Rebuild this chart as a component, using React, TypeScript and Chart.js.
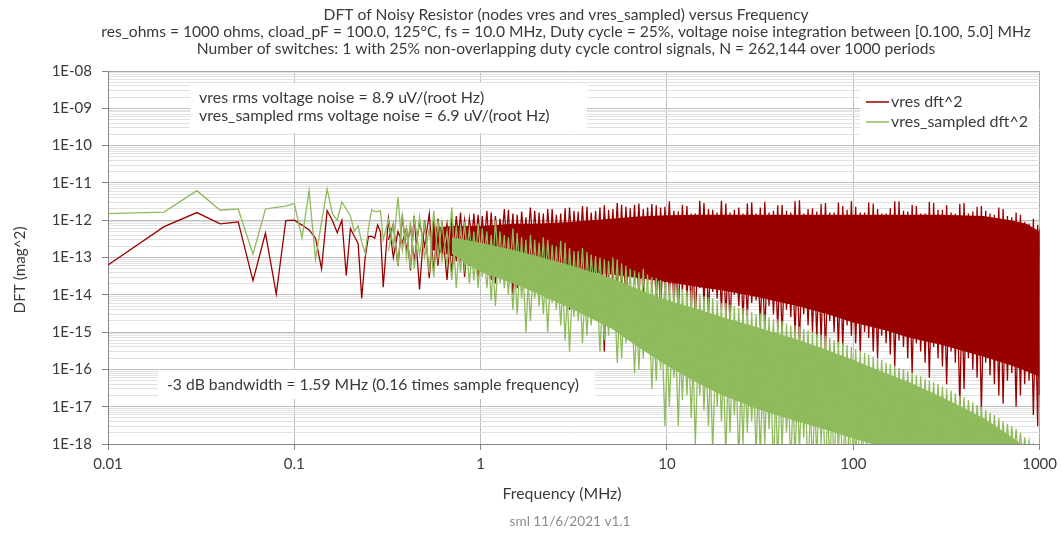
import { useEffect, useRef } from 'react';
import { Chart, registerables } from 'chart.js';

Chart.register(...registerables);

// ---------- texts ----------
const chartTitleLines = [
  'DFT of Noisy Resistor (nodes vres and vres_sampled) versus Frequency',
  'res_ohms = 1000 ohms, cload_pF = 100.0, 125°C, fs = 10.0 MHz, Duty cycle = 25%, voltage noise integration between [0.100, 5.0] MHz',
  'Number of switches: 1 with 25% non-overlapping duty cycle control signals, N = 262,144 over 1000 periods',
];
const noiseNotes = [
  'vres rms voltage noise = 8.9 uV/(root Hz)',
  'vres_sampled rms voltage noise = 6.9 uV/(root Hz)',
];
const bandwidthNote = '-3 dB bandwidth = 1.59 MHz (0.16 times sample frequency)';
const seriesNames = ['vres dft^2', 'vres_sampled dft^2'];
const xAxisTitle = 'Frequency (MHz)';
const yAxisTitle = 'DFT (mag^2)';
const footerText = 'sml 11/6/2021 v1.1';

// ---------- ticks ----------
const xTickValues = [0.01, 0.1, 1, 10, 100, 1000];
const xTickLabels = ['0.01', '0.1', '1', '10', '100', '1000'];
const yDecadeValues = [1e-18, 1e-17, 1e-16, 1e-15, 1e-14, 1e-13, 1e-12, 1e-11, 1e-10, 1e-9, 1e-8];
const yDecadeLabels = ['1E-18', '1E-17', '1E-16', '1E-15', '1E-14', '1E-13', '1E-12', '1E-11', '1E-10', '1E-09', '1E-08'];
const yMinorMultipliers = [2, 3, 4, 5, 6, 7, 8, 9];

// ---------- data: individually resolved low-frequency bins (MHz) ----------
const lowFreqMHz = [0.01, 0.02, 0.03, 0.04, 0.05, 0.06, 0.07, 0.08, 0.09, 0.10, 0.11, 0.12, 0.13, 0.14, 0.15,
  0.16, 0.17, 0.18, 0.19, 0.20, 0.21, 0.22, 0.23, 0.24, 0.25, 0.26, 0.27, 0.28, 0.29, 0.30];
const vresLow = [6.3e-14, 6.7e-13, 1.6e-12, 8.0e-13, 9.0e-13, 2.4e-14, 4.5e-13, 1.05e-14, 9.8e-13, 1.0e-12,
  7.4e-13, 5.5e-13, 3.3e-13, 5.0e-14, 1.8e-12, 1.0e-12, 4.6e-13, 1.0e-12, 3.3e-14, 6.0e-13,
  3.7e-13, 2.4e-13, 8.1e-15, 1.0e-13, 3.7e-13, 3.7e-13, 3.3e-13, 7.4e-13, 4.9e-13, 1.6e-14];
const vresSampledLow = [1.5e-12, 1.65e-12, 6.2e-12, 1.85e-12, 2.0e-12, 1.23e-13, 2.0e-12, 2.2e-12, 2.4e-12, 2.8e-12,
  3.3e-13, 6.2e-12, 8.9e-14, 9.0e-13, 6.9e-12, 1.5e-12, 1.0e-12, 3.1e-12, 2.0e-12, 1.3e-12,
  5.0e-13, 7.0e-13, 2.5e-13, 1.3e-13, 6.0e-13, 1.9e-12, 1.7e-12, 1.7e-12, 1.8e-12, 3.0e-13];

// ---------- data: dense region, sampled peaks / dips (MHz) ----------
const denseFreqMHz = [0.32, 0.34, 0.36, 0.38, 0.40, 0.42, 0.44, 0.47, 0.50, 0.53, 0.56, 0.59, 0.62, 0.66, 0.70,
  0.74, 0.78, 0.82, 0.87, 0.92, 0.97,
  1.02, 1.08, 1.14, 1.2, 1.27, 1.34, 1.41, 1.49, 1.57, 1.66, 1.75, 1.85, 1.95, 2.06, 2.17, 2.29, 2.42, 2.55,
  2.69, 2.84, 3.0, 3.17, 3.34, 3.52, 3.72, 3.92, 4.14, 4.37, 4.61, 4.86, 5.13, 5.41, 5.71, 6.02, 6.35, 6.7,
  7.07, 7.46, 7.87, 8.3, 8.76, 9.24, 9.75,
  10.3, 10.9, 11.5, 12.1, 12.8, 13.5, 14.2, 15.0, 15.8, 16.7, 17.6, 18.6, 19.6, 20.7, 21.8, 23.0, 24.3, 25.6,
  27.0, 28.5, 30.1, 31.7, 33.5, 35.3, 37.3, 39.3, 41.5, 43.8, 46.2, 48.7, 51.4, 54.2, 57.2, 60.4, 63.7, 67.2,
  70.9, 74.8, 78.9, 83.2, 87.8, 92.6, 97.7,
  103, 109, 115, 121, 128, 135, 142, 150, 158, 167, 176, 186, 196, 207, 218, 230, 243, 256, 270, 285, 301,
  317, 335, 353, 373, 393, 415, 438, 462, 487, 514, 542, 572, 604, 637, 672, 709, 748, 789, 832, 878, 926,
  977, 1000];
// peaks on even indices, dips on odd
const vresDenseA = [1.1e-12, 1.0e-13, 5e-13, 2.5e-13, 6e-13, 4.5e-14, 1.3e-12, 1.4e-14, 1.0e-12, 2.8e-14,
  1.0e-12, 6e-14, 9e-13, 2.5e-14, 1.2e-12, 8e-14, 1.6e-12, 3e-14, 1.1e-12, 1.2e-13, 1.4e-12,
  5e-14, 1.8e-12, 2.5e-14, 1.3e-12, 8e-14, 2.0e-12, 4e-14, 1.5e-12, 1.5e-14, 1.7e-12, 6e-14, 2.2e-12,
  3e-14, 1.6e-12, 1.2e-14, 2.0e-12, 5e-14, 1.4e-12, 2e-14, 2.1e-12, 4e-15, 1.8e-12, 3e-14, 2.4e-12,
  1.5e-14, 1.6e-12, 4e-14, 2.2e-12, 3e-16, 1.9e-12, 2.5e-14, 2.9e-12, 1.2e-14, 2.3e-12, 3e-14, 2.6e-12,
  8e-15, 2.0e-12, 2e-14, 2.7e-12, 6e-15, 2.2e-12, 1.5e-14,
  3.2e-12, 5e-15, 1.7e-12, 1.2e-14, 2.4e-12, 4e-15, 1.5e-12, 1.5e-14, 2.9e-12, 3e-15, 1.9e-12, 8e-15,
  3.3e-12, 2.5e-15, 1.6e-12, 1e-14, 2.2e-12, 2e-15, 2.8e-12, 6e-15, 1.5e-12, 1.5e-15, 3.1e-12, 5e-15,
  1.8e-12, 1.2e-15, 2.6e-12, 4e-15, 1.6e-12, 8e-16, 3.4e-12, 3e-15, 2.0e-12, 1e-15, 1.7e-12, 6e-16,
  2.9e-12, 2e-15, 1.6e-12, 4e-16, 2.4e-12, 1.5e-15, 3.2e-12,
  5e-16, 1.6e-12, 1e-15, 3.0e-12, 3e-16, 2.0e-12, 8e-16, 1.5e-12, 2.5e-16, 3.2e-12, 6e-16, 1.8e-12,
  2e-16, 2.6e-12, 5e-16, 1.5e-12, 1.5e-16, 3.1e-12, 4e-16, 1.9e-12, 1.2e-16, 2.5e-12, 3e-16, 1.5e-12,
  1e-17, 2.9e-12, 2e-16, 1.7e-12, 6e-17, 2.4e-12, 1.5e-16, 1.5e-12, 4e-17, 2.2e-12, 1.2e-17, 1.3e-12,
  8e-17, 1.6e-12, 2e-17, 9e-13, 5e-17, 1.1e-12, 3e-18, 6e-13];
// dips on even indices, peaks on odd
const vresDenseB = [3e-13, 8e-13, 6e-14, 1.2e-12, 1.5e-13, 7e-13, 8e-14, 9e-13, 2e-13, 1.5e-12, 4e-14, 1.1e-12,
  1.2e-13, 8e-13, 4e-14, 1.3e-12, 1e-13, 1.0e-12, 6e-14, 1.5e-12, 3e-14,
  1.3e-12, 4e-14, 1.6e-12, 2e-14, 1.1e-12, 6e-14, 1.9e-12, 1e-14, 1.4e-12, 4e-14, 1.2e-12, 2.5e-14, 1.8e-12,
  5e-14, 1.5e-12, 8e-15, 2.0e-12, 3e-14, 1.5e-12, 1.5e-14, 2.2e-12, 4e-14, 1.7e-12, 1e-14, 2.3e-12, 2e-14,
  1.8e-12, 6e-15, 2.5e-12, 3e-14, 2.0e-12, 1e-14, 2.6e-12, 4e-15, 2.1e-12, 2e-14, 2.8e-12, 7e-15, 2.2e-12,
  1.2e-14, 2.5e-12, 3e-15, 2.3e-12,
  1e-14, 1.8e-12, 3e-15, 2.6e-12, 8e-15, 1.5e-12, 2e-15, 3.3e-12, 6e-15, 2.0e-12, 1.2e-14, 1.6e-12, 4e-15,
  2.8e-12, 1.5e-15, 1.9e-12, 5e-15, 1.5e-12, 2.5e-15, 3.0e-12, 7e-15, 2.2e-12, 1e-15, 1.6e-12, 3e-15, 2.5e-12,
  8e-16, 1.8e-12, 2.5e-15, 3.2e-12, 5e-16, 1.5e-12, 1.5e-15, 2.1e-12, 7e-16, 2.7e-12, 3e-16, 1.6e-12, 1e-15,
  3.0e-12, 4e-16, 1.9e-12, 8e-16,
  2.3e-12, 3e-16, 1.6e-12, 7e-16, 2.8e-12, 2e-16, 1.5e-12, 5e-16, 2.1e-12, 1.2e-16, 3.2e-12, 4e-16, 1.7e-12,
  8e-17, 2.4e-12, 3e-16, 1.5e-12, 6e-17, 2.9e-12, 2e-16, 1.9e-12, 4e-17, 1.6e-12, 1.5e-16, 2.7e-12, 3e-17,
  1.5e-12, 1e-16, 2.3e-12, 8e-18, 1.8e-12, 7e-17, 1.4e-12, 2e-17, 2.0e-12, 5e-17, 1.2e-12, 1e-17, 1.4e-12,
  4e-17, 8e-13, 6e-18, 7.5e-13, 2e-17];
const vresSampledDenseA = [1.0e-12, 2e-13, 4.2e-12, 1.5e-13, 6e-13, 5e-14, 1.2e-12, 1.2e-13, 8e-13, 4e-14,
  1.8e-12, 1e-13, 9e-13, 6e-14, 2.2e-12, 1.5e-14, 7e-13, 5e-14, 6e-13, 2.4e-14, 8e-13,
  3e-14, 5e-13, 7e-15, 1.0e-12, 2e-14, 4e-13, 1e-14, 6e-13, 3e-15, 3.5e-13, 1e-15, 4e-13,
  8e-15, 2.5e-13, 3e-15, 3e-13, 6e-15, 2e-13, 1.5e-15, 2.5e-13, 3e-16, 1.5e-13, 2e-15, 1.8e-13,
  8e-16, 1.2e-13, 2.5e-15, 1.0e-13, 6e-16, 8e-14, 1.2e-15, 9e-14, 2e-16, 6e-14, 8e-16, 4.5e-14,
  1e-16, 5e-14, 3e-16, 3e-14, 5e-17, 2.5e-14, 3e-18,
  2e-14, 6e-17, 1.6e-14, 1.5e-17, 1.3e-14, 5e-18, 1.2e-14, 2e-17, 9e-15, 3e-18, 8e-15, 1e-17,
  6e-15, 5e-19, 5.5e-15, 6e-18, 4.5e-15, 1e-18, 4e-15, 4e-18, 3e-15, 5e-19, 3e-15, 2.5e-18,
  2.2e-15, 3e-19, 2e-15, 2e-18, 1.5e-15, 4e-19, 1.4e-15, 1.5e-18, 1.1e-15, 2e-19, 9e-16, 1e-18,
  8e-16, 2e-19, 6e-16, 6e-19, 5e-16, 1e-19, 4e-16,
  4e-19, 3e-16, 1e-19, 2.5e-16, 2e-19, 2e-16, 1e-19, 1.5e-16, 1e-19, 1.2e-16, 1e-19, 1e-16,
  1e-19, 8e-17, 1e-19, 6.5e-17, 1e-19, 5e-17, 1e-19, 4e-17, 1e-19, 3e-17, 1e-19, 2.3e-17,
  1e-19, 1.8e-17, 1e-19, 1.3e-17, 1e-19, 1e-17, 1e-19, 7e-18, 1e-19, 5e-18, 1e-19, 3.5e-18,
  1e-19, 2.5e-18, 1e-19, 1.5e-18, 1e-19, 9e-19, 1e-19, 6e-19];
const vresSampledDenseB = [1.5e-13, 8e-13, 6e-14, 1.5e-12, 1e-13, 9e-13, 5e-14, 1.2e-12, 1e-13, 6e-13, 3e-14,
  1.0e-12, 8e-14, 5e-13, 2.5e-14, 7e-13, 4e-14, 9e-13, 2e-14, 5e-13, 1.5e-14,
  6e-13, 1.5e-14, 4e-13, 5e-15, 5e-13, 1.5e-14, 3.5e-13, 4e-15, 4.5e-13, 8e-15, 3e-13, 2e-15, 3e-13, 5e-15,
  3.5e-13, 1e-15, 2.2e-13, 4e-15, 2.8e-13, 6e-16, 1.8e-13, 2.5e-15, 1.5e-13, 5e-16, 1.4e-13, 1.5e-15, 1.1e-13,
  3e-16, 9e-14, 8e-16, 1.0e-13, 1.5e-16, 7e-14, 5e-16, 5e-14, 8e-17, 4e-14, 2e-16, 3.5e-14, 3e-17, 2.8e-14,
  1e-16, 2.2e-14,
  1e-17, 1.8e-14, 3e-18, 1.4e-14, 2e-17, 1.3e-14, 1e-18, 1e-14, 8e-18, 8.5e-15, 6e-19, 7e-15, 4e-18, 6e-15,
  2e-18, 5e-15, 3e-19, 4.5e-15, 2e-18, 3.5e-15, 5e-19, 3.2e-15, 1e-18, 2.5e-15, 2e-19, 2.2e-15, 8e-19, 1.7e-15,
  2e-19, 1.5e-15, 6e-19, 1.2e-15, 1e-19, 1e-15, 4e-19, 8.5e-16, 1e-19, 7e-16, 2e-19, 5.5e-16, 1e-19, 4.5e-16,
  1e-19,
  3.5e-16, 1e-19, 2.8e-16, 1e-19, 2.2e-16, 1e-19, 1.8e-16, 1e-19, 1.4e-16, 1e-19, 1.1e-16, 1e-19, 9e-17, 1e-19,
  7e-17, 1e-19, 5.5e-17, 1e-19, 4.5e-17, 1e-19, 3.5e-17, 1e-19, 2.7e-17, 1e-19, 2e-17, 1e-19, 1.5e-17, 1e-19,
  1.1e-17, 1e-19, 8e-18, 1e-19, 6e-18, 1e-19, 4e-18, 1e-19, 3e-18, 1e-19, 2e-18, 1e-19, 1.2e-18, 1e-19, 7e-19,
  1e-19];

// ---------- data: dense core band of each trace (MHz) ----------
const vresBandFreqMHz = [0.55, 0.7, 1, 1.5, 2, 3, 5, 7, 10, 15, 20, 30, 50, 70, 100, 150, 200, 300, 500, 700, 850, 1000];
const vresBandTop = [6.3e-13, 7.0e-13, 7.0e-13, 8.0e-13, 8.0e-13, 9.0e-13, 1.1e-12, 1.25e-12, 1.35e-12, 1.4e-12, 1.4e-12,
  1.4e-12, 1.4e-12, 1.4e-12, 1.4e-12, 1.4e-12, 1.4e-12, 1.4e-12, 1.3e-12, 1.0e-12, 8.0e-13, 5.0e-13];
const vresBandBottom = [1.6e-13, 1.1e-13, 7.9e-14, 7.1e-14, 5.6e-14, 4.5e-14, 3.5e-14, 2.8e-14, 2.2e-14, 1.6e-14, 1.3e-14,
  8.9e-15, 5.0e-15, 3.2e-15, 1.8e-15, 1.1e-15, 7.1e-16, 4.5e-16, 2.2e-16, 1.3e-16, 8.9e-17, 6.3e-17];
const sampledBandFreqMHz = [0.7, 1, 1.5, 2, 3, 5, 7, 10, 15, 20, 30, 50, 70, 100, 150, 200, 300, 500, 700, 850, 1000];
const sampledBandTop = [3.5e-13, 2.5e-13, 1.6e-13, 1.1e-13, 6.3e-14, 2.8e-14, 1.4e-14, 7.1e-15, 4.0e-15, 2.5e-15, 1.4e-15,
  6.3e-16, 3.5e-16, 1.8e-16, 7.9e-17, 4.5e-17, 1.8e-17, 5.0e-18, 1.6e-18, 7.9e-19, 4.0e-19];
const sampledBandBottom = [1.26e-13, 4.0e-14, 2.0e-14, 1.1e-14, 4.5e-15, 1.26e-15, 4.0e-16, 1.26e-16, 4.0e-17, 2.0e-17, 8.9e-18,
  4.0e-18, 2.5e-18, 1.4e-18, 7.9e-19, 5.0e-19, 2.5e-19, 1.0e-19, 5.0e-20, 3.2e-20, 2.5e-20];

// ---------- styles ----------
const RED = '#990000';
const GREEN = '#8fbb5c';
const TEXT = '#3a3a3a';
const FONT = "Lato, 'Open Sans', sans-serif";
const NONE = 'rgba(0,0,0,0)';

const pts = (xs: number[], ys: number[]) => xs.map((x, i) => ({ x, y: ys[i] }));

const isDecade = (v: number) => {
  const e = Math.log10(v);
  return Math.abs(e - Math.round(e)) < 1e-6;
};

function fitFont(ctx: CanvasRenderingContext2D, text: string, width: number) {
  ctx.font = `20px ${FONT}`;
  const w = ctx.measureText(text).width;
  const size = (20 * width) / w;
  ctx.font = `${size}px ${FONT}`;
  return size;
}

const overlayPlugin = {
  id: 'overlayTexts',
  afterDraw(chart: any) {
    const ctx: CanvasRenderingContext2D = chart.ctx;
    ctx.save();
    ctx.textBaseline = 'middle';
    // title (one size for all lines)
    ctx.fillStyle = TEXT;
    ctx.textAlign = 'center';
    const ts = fitFont(ctx, chartTitleLines[1], 930);
    const titleY = [15, 32, 49];
    chartTitleLines.forEach((t, i) => {
      ctx.font = `${ts}px ${FONT}`;
      ctx.fillText(t, 566, titleY[i]);
    });
    // noise box
    ctx.fillStyle = '#ffffff';
    ctx.fillRect(190, 83, 397, 50);
    ctx.fillStyle = TEXT;
    ctx.textAlign = 'left';
    const s1 = fitFont(ctx, noiseNotes[1], 351);
    ctx.font = `${s1}px ${FONT}`;
    ctx.fillText(noiseNotes[0], 199, 98);
    ctx.fillText(noiseNotes[1], 199, 116);
    // bandwidth box
    ctx.fillStyle = '#ffffff';
    ctx.fillRect(158, 370, 437, 29);
    ctx.fillStyle = TEXT;
    fitFont(ctx, bandwidthNote, 412);
    ctx.fillText(bandwidthNote, 167, 385);
    // legend
    ctx.fillStyle = '#ffffff';
    ctx.fillRect(860, 86, 179, 51);
    const ls = fitFont(ctx, seriesNames[1], 137);
    ctx.font = `${ls}px ${FONT}`;
    [RED, GREEN].forEach((c, i) => {
      const y = 102 + i * 20;
      ctx.strokeStyle = c;
      ctx.lineWidth = 1.5;
      ctx.beginPath();
      ctx.moveTo(866, y);
      ctx.lineTo(889, y);
      ctx.stroke();
      ctx.fillStyle = TEXT;
      ctx.fillText(seriesNames[i], 891, y);
    });
    // axis titles
    ctx.textAlign = 'center';
    fitFont(ctx, xAxisTitle, 119);
    ctx.fillText(xAxisTitle, 562, 494);
    ctx.save();
    ctx.translate(20, 270);
    ctx.rotate(-Math.PI / 2);
    fitFont(ctx, yAxisTitle, 87);
    ctx.fillText(yAxisTitle, 0, 0);
    ctx.restore();
    // footer
    ctx.fillStyle = '#8c8c8c';
    fitFont(ctx, footerText, 121);
    ctx.fillText(footerText, 570, 522);
    ctx.restore();
  },
};

export default function App() {
  const ref = useRef<HTMLCanvasElement | null>(null);

  useEffect(() => {
    if (!ref.current) return;
    Chart.defaults.font.family = FONT;
    const line = { pointRadius: 0, tension: 0, fill: false, borderWidth: 1.3 };
    const hidden = { pointRadius: 0, borderColor: NONE, borderWidth: 0 };
    const chart = new Chart(ref.current, {
      type: 'line',
      data: {
        datasets: [
          { ...line, label: seriesNames[1], data: [...pts(lowFreqMHz, vresSampledLow), ...pts(denseFreqMHz, vresSampledDenseA)], borderColor: GREEN },
          { ...line, label: seriesNames[1] + ' B', data: pts(denseFreqMHz, vresSampledDenseB), borderColor: GREEN },
          { ...hidden, label: 'sampled band low', data: pts(sampledBandFreqMHz, sampledBandBottom), fill: 3, backgroundColor: GREEN },
          { ...hidden, label: 'sampled band high', data: pts(sampledBandFreqMHz, sampledBandTop), fill: false },
          { ...line, label: seriesNames[0], data: [...pts(lowFreqMHz, vresLow), ...pts(denseFreqMHz, vresDenseA)], borderColor: RED },
          { ...line, label: seriesNames[0] + ' B', data: pts(denseFreqMHz, vresDenseB), borderColor: RED },
          { ...hidden, label: 'vres band low', data: pts(vresBandFreqMHz, vresBandBottom), fill: 7, backgroundColor: RED },
          { ...hidden, label: 'vres band high', data: pts(vresBandFreqMHz, vresBandTop), fill: false },
        ] as any,
      },
      options: {
        animation: false,
        responsive: false,
        devicePixelRatio: 1,
        events: [],
        layout: { padding: { top: 71, right: 22, bottom: 0, left: 0 } },
        plugins: { legend: { display: false }, tooltip: { enabled: false }, title: { display: false } },
        scales: {
          x: {
            type: 'logarithmic',
            min: 0.01,
            max: 1000,
            afterBuildTicks: (axis: any) => {
              axis.ticks = xTickValues.map((v) => ({ value: v }));
            },
            afterFit: (axis: any) => {
              axis.height = 89;
            },
            ticks: {
              autoSkip: false,
              maxRotation: 0,
              padding: 5,
              color: TEXT,
              font: { size: 15, family: FONT },
              callback: (_v: any, i: number) => xTickLabels[i],
            },
            grid: {
              color: (c: any) => (c.index === xTickValues.length - 1 ? '#a6a6a6' : '#bdbdbd'),
              lineWidth: 1,
              tickLength: 6,
              tickColor: '#868686',
            },
            border: { display: true, color: '#868686', width: 1 },
          },
          y: {
            type: 'logarithmic',
            min: 1e-18,
            max: 1e-8,
            afterBuildTicks: (axis: any) => {
              const t: { value: number }[] = [];
              yDecadeValues.forEach((d, i) => {
                t.push({ value: d });
                if (i < yDecadeValues.length - 1) yMinorMultipliers.forEach((m) => t.push({ value: d * m }));
              });
              axis.ticks = t;
            },
            afterFit: (axis: any) => {
              axis.width = 108;
            },
            ticks: {
              autoSkip: false,
              padding: 10,
              color: TEXT,
              font: { size: 15, family: FONT },
              callback: (v: any) => {
                const n = Number(v);
                if (!isDecade(n)) return '';
                const idx = yDecadeValues.findIndex((d) => Math.abs(n / d - 1) < 1e-6);
                return idx >= 0 ? yDecadeLabels[idx] : '';
              },
            },
            grid: {
              color: (c: any) => {
                const v = c.tick ? c.tick.value : 1;
                if (Math.abs(v / 1e-8 - 1) < 1e-6) return '#a6a6a6';
                return isDecade(v) ? '#bfbfbf' : '#e1e1e1';
              },
              lineWidth: 1,
              tickLength: 6,
              tickColor: (c: any) => (c.tick && isDecade(c.tick.value) ? '#868686' : NONE),
            },
            border: { display: true, color: '#868686', width: 1 },
          },
        },
      } as any,
      plugins: [overlayPlugin],
    });
    return () => chart.destroy();
  }, []);

  return (
    <div style={{ position: 'absolute', left: 0, top: 0, width: 1062, height: 533, background: '#ffffff' }}>
      <canvas ref={ref} width={1062} height={533} style={{ display: 'block' }} />
    </div>
  );
}
